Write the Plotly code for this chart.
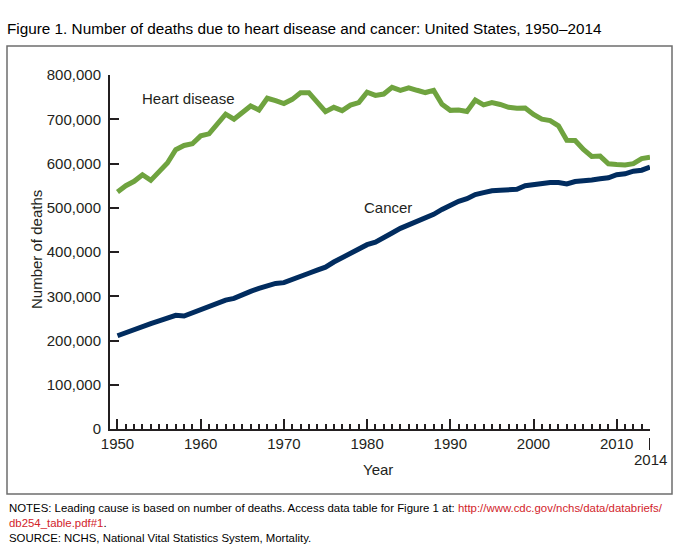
import plotly.graph_objects as go

years = list(range(1950, 2015))

heart_disease = [
    535705, 549900, 559700, 574600, 561900, 582000, 601000, 631000, 640700, 644500,
    662500, 667000, 689600, 711400, 700000, 713600, 730000, 721000, 747500, 742000,
    735542, 745000, 760000, 760000, 737500, 717000, 727000, 719600, 732000, 737500,
    761085, 753884, 757000, 772000, 765114, 771169, 765490, 760353, 765156, 733867,
    720058, 720862, 717706, 743460, 732409, 737563, 733361, 726974, 724859, 725192,
    710760, 700142, 696947, 685089, 652486, 652091, 631636, 616067, 616828, 599413,
    597689, 596577, 599711, 611105, 614348,
]

cancer = [
    210733, 218200, 224600, 231400, 238100, 244100, 250900, 256900, 255400, 263000,
    267627, 278000, 283200, 291400, 295200, 304200, 311000, 317700, 324500, 329000,
    330730, 337000, 345000, 352000, 359000, 365693, 377300, 386700, 396000, 404000,
    416509, 422094, 433795, 442986, 453492, 461563, 469376, 476927, 485048, 496152,
    505322, 514657, 520578, 529904, 534310, 538455, 539533, 539577, 541532, 549838,
    553091, 553768, 557271, 556902, 553888, 559312, 559888, 562875, 565469, 567628,
    574743, 576691, 582623, 584881, 591700,
]

x_tick_vals = [1950, 1960, 1970, 1980, 1990, 2000, 2010]
x_tick_text = ["1950", "1960", "1970", "1980", "1990", "2000", "2010"]
y_tick_vals = [0, 100000, 200000, 300000, 400000, 500000, 600000, 700000, 800000]
y_tick_text = ["0", "100,000", "200,000", "300,000", "400,000", "500,000",
               "600,000", "700,000", "800,000"]
last_year = 2014

GREEN = "#6FA33F"
NAVY = "#012C5F"
INK = "#231F20"
FONT = "Liberation Sans, Arial, sans-serif"

W, H = 689, 554
L, R, T, B = 110, 650, 75, 429  # plot area pixel bounds


def px_x(p):
    return (p - L) / (R - L)


def px_y(p):
    return (B - p) / (B - T)


fig = go.Figure()
fig.add_trace(go.Scatter(x=years, y=heart_disease, mode="lines",
                         line=dict(color=GREEN, width=5), name="Heart disease",
                         hoverinfo="x+y"))
fig.add_trace(go.Scatter(x=years, y=cancer, mode="lines",
                         line=dict(color=NAVY, width=5), name="Cancer",
                         hoverinfo="x+y"))

fig.update_layout(
    width=W, height=H,
    margin=dict(l=L, r=W - R, t=T, b=H - B, pad=0),
    paper_bgcolor="white", plot_bgcolor="white",
    showlegend=False,
    font=dict(family=FONT, color=INK, size=15),
    title=dict(text="Figure 1. Number of deaths due to heart disease and cancer: United States, 1950\u20132014",
               xref="container", yref="container", x=7 / W, y=1 - 29 / H,
               xanchor="left", yanchor="middle",
               font=dict(family=FONT, size=15.3, color="black")),
)

fig.update_xaxes(
    range=[1949.1, last_year], showgrid=False, zeroline=False,
    showline=True, linecolor=INK, linewidth=2,
    tickmode="array", tickvals=x_tick_vals + [last_year],
    ticktext=x_tick_text + [""],
    ticks="inside", ticklen=10, tickwidth=1.5, tickcolor=INK,
    minor=dict(dtick=1, tick0=1950, ticks="inside", ticklen=5, tickwidth=1.5, tickcolor=INK),
    tickfont=dict(size=15, color=INK),
)
fig.update_yaxes(
    range=[0, 800000], showgrid=False, zeroline=False,
    showline=True, linecolor=INK, linewidth=2,
    tickmode="array", tickvals=y_tick_vals, ticktext=y_tick_text,
    ticks="inside", ticklen=9, tickwidth=2, tickcolor=INK,
    tickfont=dict(size=15, color=INK), ticklabelstandoff=4,
)

# extra tick and label for final year
fig.add_shape(type="line", xref="x", yref="paper", x0=last_year, x1=last_year,
              y0=px_y(438), y1=px_y(450), line=dict(color=INK, width=2))
fig.add_annotation(x=last_year, xref="x", y=px_y(460), yref="paper",
                   text=str(last_year), showarrow=False, xanchor="center", yanchor="middle",
                   font=dict(size=15, color=INK))

# axis titles
fig.add_annotation(x=px_x(378), y=px_y(469), xref="paper", yref="paper",
                   text="Year", showarrow=False, xanchor="center", yanchor="middle",
                   font=dict(size=15, color=INK))
fig.add_annotation(x=px_x(36), y=px_y(250), xref="paper", yref="paper",
                   text="Number of deaths", textangle=-90, showarrow=False,
                   xanchor="center", yanchor="middle", font=dict(size=15, color=INK))

# series labels
fig.add_annotation(x=1952.7, y=746000, xref="x", yref="y", text="Heart disease",
                   showarrow=False, xanchor="left", yanchor="middle",
                   font=dict(size=15, color=INK))
fig.add_annotation(x=1979.4, y=501000, xref="x", yref="y", text="Cancer",
                   showarrow=False, xanchor="left", yanchor="middle",
                   font=dict(size=15, color=INK))

# frame around figure
fig.add_shape(type="rect", xref="paper", yref="paper",
              x0=px_x(7), x1=px_x(672), y0=px_y(494), y1=px_y(46),
              line=dict(color="#6E6E6E", width=1.5), fillcolor="rgba(0,0,0,0)", layer="below")

# notes
link = "#D2232A"
notes = ("NOTES: Leading cause is based on number of deaths. Access data table for Figure 1 at: "
         f"<span style='color:{link}'>http://www.cdc.gov/nchs/data/databriefs/</span><br>"
         f"<span style='color:{link}'>db254_table.pdf#1</span>.<br>"
         "SOURCE: NCHS, National Vital Statistics System, Mortality.")
fig.add_annotation(x=px_x(7), y=px_y(500), xref="paper", yref="paper",
                   text=notes, showarrow=False, xanchor="left", yanchor="top", align="left",
                   font=dict(size=11.4, color="black"))

fig.write_html("out.html")
